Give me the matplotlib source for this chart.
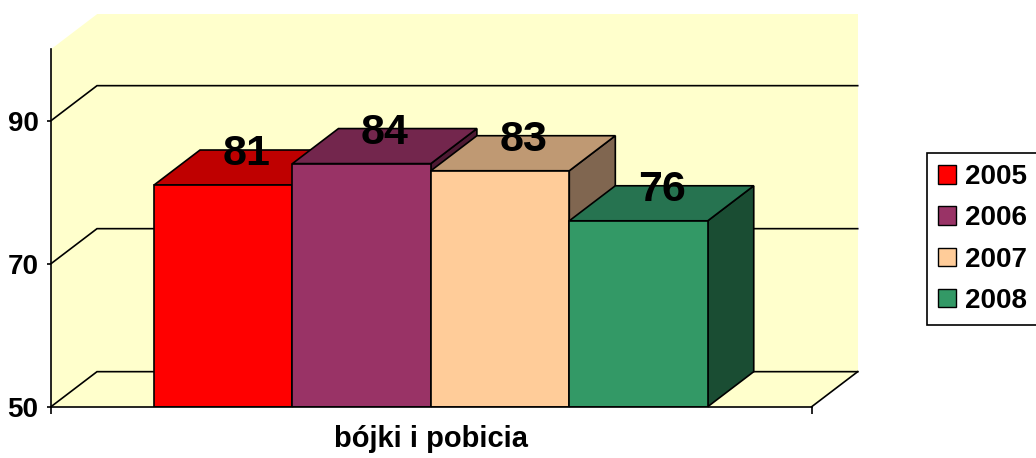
import matplotlib
matplotlib.use("Agg")
import matplotlib.pyplot as plt
from matplotlib.patches import Polygon, Patch

plt.rcParams['font.family'] = ['Liberation Sans', 'DejaVu Sans']
plt.rcParams['font.weight'] = 'bold'

category = 'bójki i pobicia'
years = ['2005', '2006', '2007', '2008']
values = [81, 84, 83, 76]
front_colors = ['#FF0000', '#993366', '#FFCC99', '#339966']
top_colors = ['#BF0000', '#73264D', '#BF9973', '#267350']
side_colors = ['#800000', '#4D1A33', '#806650', '#1A4D33']
yticks = [50, 70, 90]

wall = '#FFFFCC'
ymin, ymax = 50, 100
xl, xr = -2.744, 2.751      # floor front edges (bar width = 1)
dx, dy = 0.3324, 4.9        # 3d depth offset in data units
lw = 1.2

fig = plt.figure(figsize=(10.36, 4.58), dpi=100)
ax = fig.add_axes([51 / 1036, (458 - 406.7) / 458,
                   (811.7 - 51) / 1036, (406.7 - 49.2) / 458])
ax.set_facecolor('none')
ax.set_xlim(xl, xr)
ax.set_ylim(ymin, ymax)

# walls and floor
back = Polygon([(xl + dx, ymin + dy), (xr + dx, ymin + dy),
                (xr + dx, ymax + dy), (xl + dx, ymax + dy)],
               closed=True, facecolor=wall, edgecolor='none', zorder=0, clip_on=False)
side = Polygon([(xl, ymin), (xl + dx, ymin + dy), (xl + dx, ymax + dy), (xl, ymax)],
               closed=True, facecolor=wall, edgecolor='none', zorder=0, clip_on=False)
floor = Polygon([(xl, ymin), (xr, ymin), (xr + dx, ymin + dy), (xl + dx, ymin + dy)],
                closed=True, facecolor=wall, edgecolor='none', zorder=0, clip_on=False)
for p in (back, side, floor):
    ax.add_patch(p)

# gridlines on the walls
for t in yticks:
    ax.plot([xl, xl + dx, xr + dx], [t, t + dy, t + dy], color='black',
            lw=lw, zorder=1, clip_on=False, solid_joinstyle='miter')
ax.plot([xr, xr + dx], [ymin, ymin + dy], color='black', lw=lw, zorder=1, clip_on=False)

# bars
n = len(values)
pos = [i - (n - 1) / 2 for i in range(n)]
for i, (x, v) in enumerate(zip(pos, values)):
    z = 2 + i * 3
    x0, x1 = x - 0.5, x + 0.5
    sidef = Polygon([(x1, ymin), (x1 + dx, ymin + dy), (x1 + dx, v + dy), (x1, v)],
                    closed=True, facecolor=side_colors[i], edgecolor='black',
                    lw=lw, zorder=z, clip_on=False)
    topf = Polygon([(x0, v), (x1, v), (x1 + dx, v + dy), (x0 + dx, v + dy)],
                   closed=True, facecolor=top_colors[i], edgecolor='black',
                   lw=lw, zorder=z, clip_on=False)
    ax.add_patch(sidef)
    ax.add_patch(topf)
    ax.bar(x, v - ymin, bottom=ymin, width=1, color=front_colors[i],
           edgecolor='black', lw=lw, zorder=z + 1)
    ax.text(x + dx / 2, v + 2.75, str(v), ha='center', va='baseline',
            fontsize=31, fontweight='bold', zorder=20)

# axes
for s in ('top', 'right'):
    ax.spines[s].set_visible(False)
for s in ('left', 'bottom'):
    ax.spines[s].set_linewidth(lw)
    ax.spines[s].set_zorder(30)
ax.set_yticks(yticks)
ax.tick_params(axis='y', length=3, width=lw, pad=6, labelsize=20)
ax.set_xticks([0])
ax.set_xticklabels([category])
ax.tick_params(axis='x', length=0, pad=13, labelsize=21)
ax.set_xticks([xl, xr], minor=True)
ax.tick_params(axis='x', which='minor', length=5, width=lw, direction='out')

handles = [Patch(facecolor=c, edgecolor='black', lw=1) for c in front_colors]
leg = ax.legend(handles, years, loc='upper left',
                bbox_to_anchor=(927 / 1036, 1 - 153 / 458),
                bbox_transform=fig.transFigure, borderaxespad=0,
                fontsize=20, handlelength=0.65, handleheight=0.65,
                handletextpad=0.3, labelspacing=0.55, borderpad=0.4,
                fancybox=False, framealpha=1, edgecolor='black')
leg.get_frame().set_linewidth(lw)

fig.savefig('out.png', dpi=100)
